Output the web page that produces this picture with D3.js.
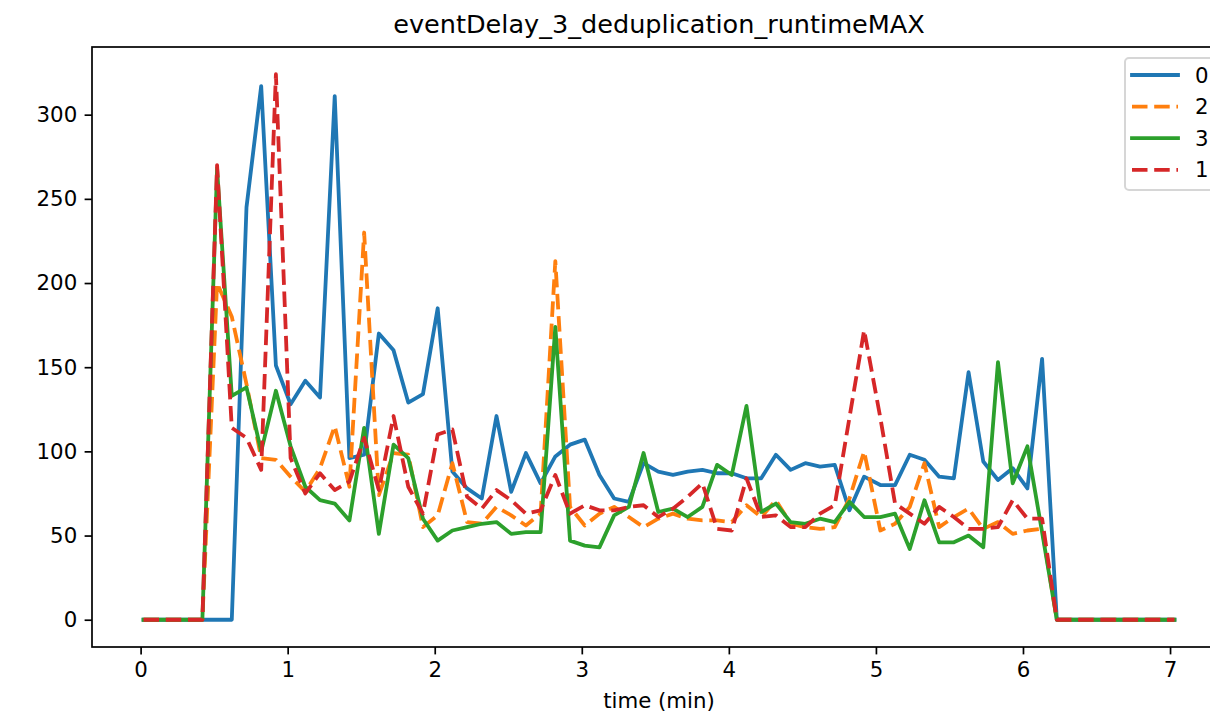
<!DOCTYPE html>
<html>
<head>
<meta charset="utf-8">
<title>eventDelay_3_deduplication_runtimeMAX</title>
<script src="https://d3js.org/d3.v7.min.js"></script>
<style>
  body { margin: 0; background: #fff; }
  svg { display: block; font-family: "DejaVu Sans", sans-serif; }
</style>
</head>
<body>
<div id="chart"></div>
<script>

// sample times (min)
var times = [0.02,0.12,0.22,0.32,0.42,0.52,0.62,0.72,0.82,0.92,
             1.02,1.12,1.22,1.32,1.42,1.52,1.62,1.72,1.82,1.92,
             2.02,2.12,2.22,2.32,2.42,2.52,2.62,2.72,2.82,2.92,
             3.02,3.12,3.22,3.32,3.42,3.52,3.62,3.72,3.82,3.92,
             4.02,4.12,4.22,4.32,4.42,4.52,4.62,4.72,4.82,4.92,
             5.03,5.13,5.23,5.33,5.43,5.53,5.63,5.73,5.83,5.93,
             6.03,6.13,6.23,6.33,6.43,6.53,6.63,6.73,6.83,6.93,7.03];

// series "0"
var values0 = [0,0,0,0,0,0,0,245,317,151,
               128,142,132,311,96,98,170,160,129,134,
               185,88,78,72,121,76,99,81,97,104,
               107,86,72,70,93,88,86,88,89,87,
               87,84,84,98,89,93,91,92,65,85,
               80,80,98,95,85,84,147,94,83,90,
               78,155,0,0,0,0,0,0,0,0,0];
// series "2"
var values2 = [0,0,0,0,0,200,180,140,96,95,
               85,76,90,115,79,230,74,99,98,55,
               62,93,58,57,67,62,56,63,213,67,
               56,63,67,61,55,60,63,60,59,59,
               58,68,61,71,57,55,54,55,72,100,
               53,57,67,93,55,61,66,54,58,51,
               53,54,0,0,0,0,0,0,0,0,0];
// series "3"
var values3 = [0,0,0,0,0,268,133,138,100,136,
               103,79,71,69,59,114,51,104,96,60,
               47,53,55,57,58,51,52,52,174,47,
               44,43,62,67,99,64,66,61,67,92,
               86,127,64,69,58,57,60,58,70,61,
               61,63,42,71,46,46,50,43,153,81,
               103,52,0,0,0,0,0,0,0,0,0];
// series "1"
var values1 = [0,0,0,0,0,270,114,108,89,324,
               96,75,87,77,82,108,77,121,79,63,
               110,113,73,66,77,71,63,65,86,63,
               68,65,65,67,68,61,66,73,81,54,
               53,84,61,62,55,55,63,68,120,172,
               120,69,63,57,67,61,54,54,55,71,
               60,60,0,0,0,0,0,0,0,0,0];

var seriesNames  = ["0", "2", "3", "1"];
var seriesValues = [values0, values2, values3, values1];
var seriesColors = ["#1f77b4", "#ff7f0e", "#2ca02c", "#d62728"];
var seriesDashed = [false, true, false, true];

var xTicks = [0, 1, 2, 3, 4, 5, 6, 7];
var yTicks = [0, 50, 100, 150, 200, 250, 300];

var titleText = "eventDelay_3_deduplication_runtimeMAX";
var xLabelText = "time (min)";

// layout (figure at ~153 dpi)
var W = 1210, H = 716;
var ax = {left: 92, right: 1226, top: 47, bottom: 647};
var fs = 21.3;
var lw = 3.8;
var dash = "15.5,6.7";

var svg = d3.select("#chart").append("svg")
	.attr("width", W)
	.attr("height", H);

svg.append("rect").attr("width", W).attr("height", H).attr("fill", "#fff");

// matplotlib-like 5% margins
function padded(ext) {
	var m = (ext[1] - ext[0]) * 0.05;
	return [ext[0] - m, ext[1] + m];
}
var allVals = [].concat.apply([], seriesValues);

var x = d3.scaleLinear()
	.domain(padded(d3.extent(times)))
	.range([ax.left, ax.right]);
var y = d3.scaleLinear()
	.domain(padded(d3.extent(allVals)))
	.range([ax.bottom, ax.top]);

svg.append("clipPath").attr("id", "clip")
	.append("rect")
	.attr("x", ax.left).attr("y", ax.top)
	.attr("width", ax.right - ax.left).attr("height", ax.bottom - ax.top);

// lines
var line = d3.line()
	.x(function(d, i) { return x(times[i]); })
	.y(function(d) { return y(d); });

var lineLayer = svg.append("g").attr("clip-path", "url(#clip)");
seriesValues.forEach(function(vals, k) {
	lineLayer.append("path")
		.datum(vals)
		.attr("d", line)
		.attr("fill", "none")
		.attr("stroke", seriesColors[k])
		.attr("stroke-width", lw)
		.attr("stroke-linejoin", "round")
		.attr("stroke-linecap", seriesDashed[k] ? "butt" : "square")
		.attr("stroke-dasharray", seriesDashed[k] ? dash : null);
});

// axes
var xAxis = d3.axisBottom(x).tickValues(xTicks).tickSize(7.4).tickPadding(7.4).tickFormat(d3.format("d"));
var yAxis = d3.axisLeft(y).tickValues(yTicks).tickSize(7.4).tickPadding(7.4).tickFormat(d3.format("d"));

var gx = svg.append("g").attr("transform", "translate(0," + ax.bottom + ")").call(xAxis);
var gy = svg.append("g").attr("transform", "translate(" + ax.left + ",0)").call(yAxis);

[gx, gy].forEach(function(g) {
	g.select(".domain").remove();
	g.selectAll(".tick line").attr("stroke", "#000").attr("stroke-width", 1.7);
	g.selectAll(".tick text")
		.attr("fill", "#000")
		.style("font-family", "DejaVu Sans")
		.style("font-size", fs + "px");
});

// frame
svg.append("rect")
	.attr("x", ax.left).attr("y", ax.top)
	.attr("width", ax.right - ax.left).attr("height", ax.bottom - ax.top)
	.attr("fill", "none")
	.attr("stroke", "#000")
	.attr("stroke-width", 1.7);

// title and x label
svg.append("text")
	.attr("x", (ax.left + ax.right) / 2)
	.attr("y", ax.top - 14)
	.attr("text-anchor", "middle")
	.style("font-size", (fs * 1.2) + "px")
	.text(titleText);

svg.append("text")
	.attr("x", (ax.left + ax.right) / 2)
	.attr("y", 708)
	.attr("text-anchor", "middle")
	.style("font-size", fs + "px")
	.text(xLabelText);

// legend
var legLeft = 1125, legTop = 58, legW = 90, legH = 132, rowH = 31.6;
var handleX = 1132, handleLen = 46, labelX = 1195;
var leg = svg.append("g");
leg.append("rect")
	.attr("x", legLeft).attr("y", legTop)
	.attr("width", legW).attr("height", legH)
	.attr("rx", 4).attr("ry", 4)
	.attr("fill", "#fff").attr("fill-opacity", 0.8)
	.attr("stroke", "#cccccc").attr("stroke-opacity", 0.8)
	.attr("stroke-width", 2);

seriesNames.forEach(function(name, k) {
	var cy = legTop + 17 + k * rowH;
	leg.append("line")
		.attr("x1", handleX).attr("x2", handleX + handleLen)
		.attr("y1", cy).attr("y2", cy)
		.attr("stroke", seriesColors[k])
		.attr("stroke-width", lw)
		.attr("stroke-linecap", seriesDashed[k] ? "butt" : "square")
		.attr("stroke-dasharray", seriesDashed[k] ? dash : null);
	leg.append("text")
		.attr("x", labelX)
		.attr("y", cy)
		.attr("dy", "0.36em")
		.style("font-size", fs + "px")
		.text(name);
});

</script>
</body>
</html>
